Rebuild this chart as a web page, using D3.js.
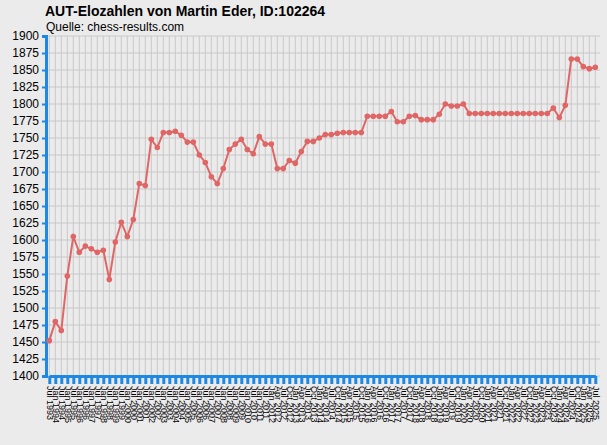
<!DOCTYPE html><html><head><meta charset="utf-8"><script src="https://cdn.jsdelivr.net/npm/d3@7"></script>
<style>body{margin:0;background:#ebebeb}text{font-family:"Liberation Sans",Arial,sans-serif}</style></head><body>
<script>
const values=[1452,1480,1467,1547,1605,1582,1591,1587,1582,1585,1542,1597,1626,1605,1630,1683,1680,1748,1736,1758,1758,1760,1754,1744,1744,1725,1714,1693,1683,1705,1733,1741,1748,1733,1727,1752,1741,1741,1705,1705,1717,1713,1730,1745,1745,1750,1755,1755,1757,1758,1758,1758,1758,1782,1782,1782,1782,1789,1774,1774,1782,1783,1777,1777,1777,1785,1800,1797,1797,1800,1786,1786,1786,1786,1786,1786,1786,1786,1786,1786,1786,1786,1786,1786,1794,1780,1798,1866,1866,1855,1852,1854];
const labels=[];
labels.push("Jul 1993");
for(let y=1994;y<=2011;y++){labels.push("Jan "+y);labels.push("Jul "+y);}
labels.push("Jan 2012");
for(let y=2012;y<=2025;y++)for(const m of["Jan","Apr","Jul","Oct"]){if(y===2012&&m==="Jan")continue;if(y===2025&&m==="Oct")continue;labels.push(m+" "+y);}
const yTicks=d3.range(1400,1901,25);
const W=607,H=445,L=46,R=600,T=36,B=376;
const svg=d3.select("body").append("svg").attr("width",W).attr("height",H);
svg.append("rect").attr("width",W).attr("height",H).attr("fill","#ebebeb");
const x=d3.scalePoint().domain(labels).range([49.3,595.3]);
const y=d3.scaleLinear().domain([1400,1900]).range([B,T]);
const g=svg.append("g");
g.selectAll(".vg").data(labels).join("line").attr("x1",d=>x(d)).attr("x2",d=>x(d)).attr("y1",T).attr("y2",B).attr("stroke","#c8c8c8");
g.selectAll(".hg").data(yTicks).join("line").attr("x1",L).attr("x2",R).attr("y1",d=>y(d)).attr("y2",d=>y(d)).attr("stroke","#c8c8c8");
const ya=svg.append("g").attr("transform",`translate(${L},0)`).call(d3.axisLeft(y).tickValues(yTicks).tickSize(4).tickFormat(d3.format("d")));
ya.select(".domain").attr("stroke","#1e88e5").attr("stroke-width",3);
ya.selectAll(".tick line").attr("stroke","#1e88e5").attr("stroke-width",2);
ya.selectAll("text").attr("font-size",12).attr("fill","#000");
const xa=svg.append("g").attr("transform",`translate(0,${B})`).call(d3.axisBottom(x).tickSize(8).tickSizeOuter(0));
xa.select(".domain").attr("stroke","#1e88e5").attr("stroke-width",3);
xa.selectAll(".tick line").attr("stroke","#1e88e5").attr("stroke-width",3);
xa.selectAll("text").attr("font-size",9).attr("fill","#000").attr("transform","rotate(90)").attr("text-anchor","start").attr("x",10).attr("y",0).attr("dy","0.35em");
svg.append("path").datum(values).attr("fill","none").attr("stroke","#e06666").attr("stroke-width",2)
 .attr("d",d3.line().x((d,i)=>x(labels[i])).y(d=>y(d)));
svg.selectAll(".pt").data(values).join("circle").attr("cx",(d,i)=>x(labels[i])).attr("cy",d=>y(d)).attr("r",2.8).attr("fill","#e06666");
svg.append("text").attr("x",45).attr("y",16).attr("font-size",14).attr("font-weight","bold").text("AUT-Elozahlen von Martin Eder, ID:102264");
svg.append("text").attr("x",46).attr("y",31).attr("font-size",12).text("Quelle: chess-results.com");
</script></body></html>
